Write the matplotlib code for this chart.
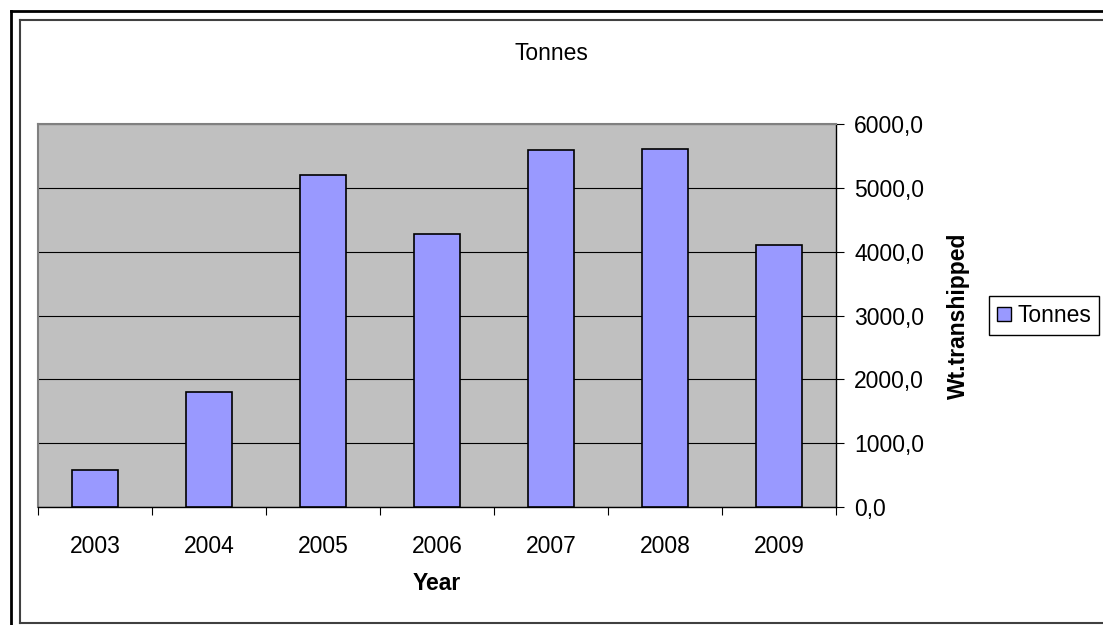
import matplotlib.pyplot as plt
from matplotlib.lines import Line2D
from matplotlib.patches import Patch
from matplotlib.ticker import FuncFormatter

plt.rcParams['font.family'] = ['Liberation Sans', 'DejaVu Sans']

years = ['2003', '2004', '2005', '2006', '2007', '2008', '2009']
tonnes = [580, 1800, 5200, 4280, 5590, 5610, 4100]
yticks = [0, 1000, 2000, 3000, 4000, 5000, 6000]

W, H = 1103, 625
FS = 16.5
fig = plt.figure(figsize=(W / 100, H / 100), dpi=100)

# plot area in pixels: left 38, right 836, top 124, bottom 507
ax = fig.add_axes([38 / W, 1 - 507 / H, 798 / W, 383 / H])
ax.set_facecolor('#C0C0C0')

x = list(range(len(years)))
ax.bar(x, tonnes, width=0.4, color='#9999FF', edgecolor='black', linewidth=1.2,
       zorder=3)

ax.set_xlim(-0.5, len(years) - 0.5)
ax.set_ylim(0, 6000)
ax.set_yticks(yticks)
ax.yaxis.set_major_formatter(FuncFormatter(lambda v, p: f'{v:.1f}'.replace('.', ',')))
ax.yaxis.tick_right()
ax.yaxis.set_label_position('right')
ax.grid(axis='y', color='black', linewidth=0.8, zorder=1)

# boundaries get the tick marks, centres get the labels
ax.set_xticks([i - 0.5 for i in range(len(years) + 1)])
ax.set_xticklabels([])
ax.set_xticks(x, minor=True)
ax.set_xticklabels(years, minor=True)
ax.tick_params(axis='x', which='major', length=6, width=0.8, color='black')
ax.tick_params(axis='x', which='minor', length=0, pad=20, labelsize=FS)
ax.tick_params(axis='y', length=6, width=0.8, pad=7, labelsize=FS)

for s in ['left', 'top']:
    ax.spines[s].set_color('#808080')
    ax.spines[s].set_linewidth(1.5)
for s in ['right', 'bottom']:
    ax.spines[s].set_color('black')
    ax.spines[s].set_linewidth(1.0)

ax.set_xlabel('Year', fontsize=FS, fontweight='bold', labelpad=10)
ax.set_ylabel('Wt.transhipped', fontsize=FS, fontweight='bold')
ax.yaxis.set_label_coords((947 - 38) / 798, 0.5)
fig.text(551 / W, 1 - 53 / H, 'Tonnes', ha='center', va='center', fontsize=FS)

fig.legend(handles=[Patch(facecolor='#9999FF', edgecolor='black', label='Tonnes')],
           loc='center', bbox_to_anchor=(1044 / W, 1 - 315.5 / H), fontsize=FS,
           fancybox=False, framealpha=1, edgecolor='black', handlelength=0.6,
           handleheight=0.6, handletextpad=0.3, borderpad=0.35)

# chart borders
def px_line(x0, y0, x1, y1, **kw):
    fig.add_artist(Line2D([x0 / W, x1 / W], [1 - y0 / H, 1 - y1 / H], **kw))

px_line(11, 11, 11, H, color='black', linewidth=2)
px_line(11, 11, W, 11, color='black', linewidth=2)
px_line(20, 20, 20, 623, color='#404040', linewidth=1.5)
px_line(20, 20, W, 20, color='#404040', linewidth=1.5)
px_line(20, 623, W, 623, color='#404040', linewidth=1.5)

fig.savefig('out.png', dpi=100)
